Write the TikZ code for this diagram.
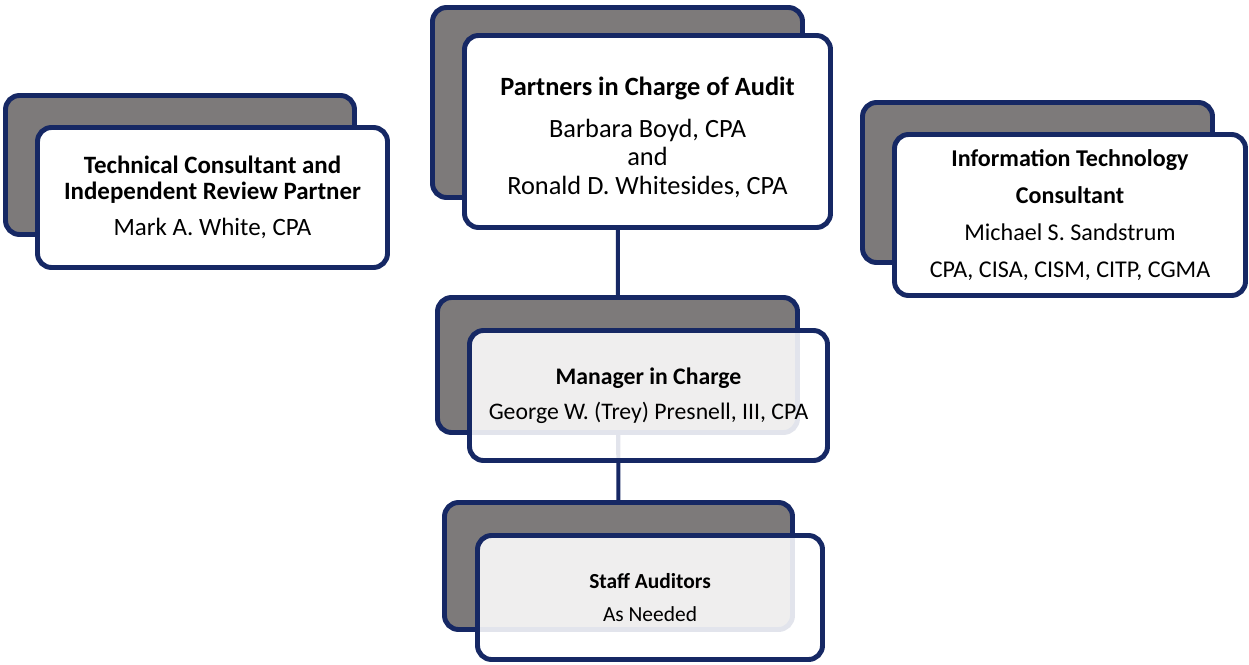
\documentclass[tikz,border=0pt]{standalone}
\usepackage{fontspec}
\setmainfont{Carlito}
\usetikzlibrary{backgrounds}
\definecolor{navy}{RGB}{22,40,100}
\definecolor{backgray}{RGB}{125,122,122}
\tikzset{
  backbox/.style={draw=navy, line width=2.8pt, rounded corners=8pt, fill=backgray},
  frontbox/.style={draw=navy, line width=2.8pt, rounded corners=8pt, fill=white, align=center},
  seethru/.style={fill opacity=.88, text opacity=1},
  link/.style={draw=navy, line width=2.3pt}
}
\begin{document}
\begin{tikzpicture}
        \useasboundingbox (0,0) rectangle (24.98,-13.28);
        % partners
        \node[backbox, minimum width=7.4cm, minimum height=3.8cm] (partb) at (12.35,-2.05) {};
        \node[frontbox, minimum width=7.32cm, minimum height=3.84cm, font=\fontsize{15}{16.2}\selectfont] (partf) at (12.95,-2.63)
          {\rule{0pt}{17pt}\textbf{Partners in Charge of Audit}\\[7.6pt] Barbara Boyd, CPA\\ and\\ Ronald D. Whitesides, CPA};
        % technical consultant
        \node[backbox, minimum width=6.98cm, minimum height=2.78cm] (techb) at (3.6,-3.3) {};
        \node[frontbox, minimum width=7cm, minimum height=2.8cm, font=\fontsize{14.2}{14.7}\selectfont] (techf) at (4.25,-3.95)
          {\textbf{Technical Consultant and}\\ \textbf{Independent Review Partner}\\[6pt] Mark A. White, CPA};
        % IT consultant
        \node[backbox, minimum width=7cm, minimum height=3.2cm] (itb) at (20.75,-3.65) {};
        \node[frontbox, minimum width=7.02cm, minimum height=3.22cm, font=\fontsize{13.7}{20.9}\selectfont] (itf) at (21.4,-4.3)
          {\textbf{Information Technology}\\ \textbf{Consultant}\\ Michael S. Sandstrum\\ CPA, CISA, CISM, CITP, CGMA};
        % manager
        \node[backbox, minimum width=7.2cm, minimum height=2.7cm] (mgrb) at (12.35,-7.3) {};
        \node[frontbox, seethru, minimum width=7.16cm, minimum height=2.6cm, font=\fontsize{13.5}{19.8}\selectfont] (mgrf) at (12.97,-7.91)
          {\textbf{Manager in Charge}\\ George W. (Trey) Presnell, III, CPA};
        % staff
        \node[backbox, minimum width=6.96cm, minimum height=2.54cm] (stfb) at (12.37,-11.32) {};
        \node[frontbox, seethru, minimum width=6.9cm, minimum height=2.48cm, font=\fontsize{12.2}{19.3}\selectfont] (stff) at (13,-11.95)
          {\textbf{Staff Auditors}\\ As Needed};
        \begin{pgfonlayer}{background}
        \draw[link] (partb.center) -- (stfb.center);
        \end{pgfonlayer}
\end{tikzpicture}
\end{document}
